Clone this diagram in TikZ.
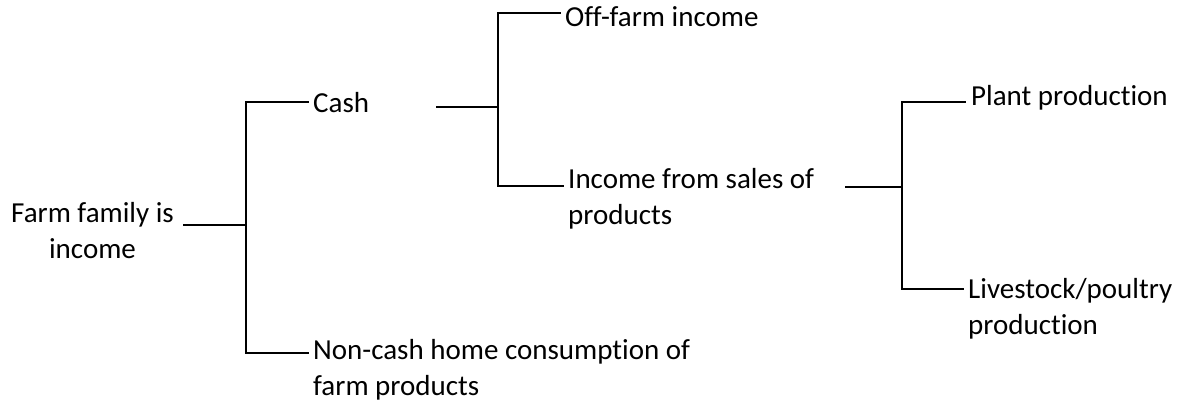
\documentclass[tikz,border=0pt]{standalone}
\usepackage{fontspec}
\setmainfont{Carlito}[Ligatures=NoCommon]
\begin{document}
\begin{tikzpicture}[x=1pt,y=-1pt,
  lbl/.style={inner sep=0pt,anchor=base west,font=\fontsize{29}{36}\selectfont},
  conn/.style={line width=1.6pt,line cap=rect}]
\useasboundingbox (0,0) rectangle (1178,404);
% text nodes
\node[lbl,anchor=base] (root) at (92.5,222) {\begin{tabular}[t]{@{}c@{}}Farm family is\\ income\end{tabular}};
\node[lbl] (cash) at (313,112) {Cash};
\node[lbl] (off) at (565,27) {Off-farm income};
\node[lbl] (sales) at (568,188) {\begin{tabular}[t]{@{}l@{}}Income from sales of\\ products\end{tabular}};
\node[lbl] (noncash) at (313,359) {\begin{tabular}[t]{@{}l@{}}Non-cash home consumption of\\ farm products\end{tabular}};
\node[lbl] (plant) at (971,106) {Plant production};
\node[lbl] (live) at (968,298) {\begin{tabular}[t]{@{}l@{}}Livestock/poultry\\ production\end{tabular}};
% connector points
\coordinate (rootR) at (184,225);
\coordinate (j1) at (246,225);
\coordinate (cashL) at (308,102);
\coordinate (noncashL) at (308,353);
\coordinate (cashR) at (437,107);
\coordinate (j2) at (498,107);
\coordinate (offL) at (560,13);
\coordinate (salesL) at (563,186);
\coordinate (salesR) at (846,187);
\coordinate (j3) at (902,187);
\coordinate (plantL) at (965,102);
\coordinate (liveL) at (963,289);
% connectors
\draw[conn] (rootR) -- (j1);
\draw[conn] (cashL) -| (j1) |- (noncashL);
\draw[conn] (cashR) -- (j2);
\draw[conn] (offL) -| (j2) |- (salesL);
\draw[conn] (salesR) -- (j3);
\draw[conn] (plantL) -| (j3) |- (liveL);
\end{tikzpicture}
\end{document}
